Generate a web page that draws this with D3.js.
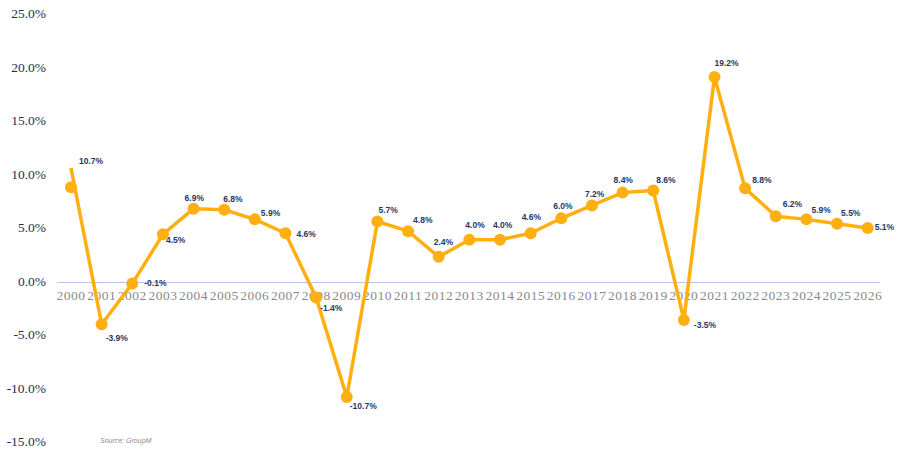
<!DOCTYPE html>
<html>
<head>
<meta charset="utf-8">
<script src="https://cdn.jsdelivr.net/npm/d3@7"></script>
<style>
  html, body { margin: 0; padding: 0; background: #ffffff; }
  svg { display: block; }
</style>
</head>
<body>
<svg id="chart" width="906" height="474"></svg>
<script>
// ---- data ----
const years = ["2000","2001","2002","2003","2004","2005","2006","2007","2008","2009","2010","2011","2012","2013",
               "2014","2015","2016","2017","2018","2019","2020","2021","2022","2023","2024","2025","2026"];
const growth = [10.7,-3.9,-0.1,4.5,6.9,6.8,5.9,4.6,-1.4,-10.7,5.7,4.8,2.4,4.0,4.0,4.6,6.0,7.2,8.4,8.6,-3.5,19.2,8.8,6.2,5.9,5.5,5.1];
// marker values as drawn in the source (first marker sits below the line start)
const markerValues = [8.9,-3.9,-0.1,4.5,6.9,6.8,5.9,4.6,-1.4,-10.7,5.7,4.8,2.4,4.0,4.0,4.6,6.0,7.2,8.4,8.6,-3.5,19.2,8.8,6.2,5.9,5.5,5.1];
const yTicks = [25,20,15,10,5,0,-5,-10,-15];
const sourceText = "Source: GroupM";

// ---- label layout (dx, dy from point) ----
const labelDx = [8,4,12,3,-9,-1,6,11,4,3,1,5,-5,-4,-7,-9,-8,-7,-9,3,10,0,7,7,5,4,7];
const labelDy = [-6,15,0,6,-10,-10,-6,1,11,10,-11,-10,-14,-14,-14,-16,-12,-11,-12,-10,6,-13,-8,-11,-9,-10,0];

const svg = d3.select("#chart");
const x = d3.scalePoint().domain(years).range([71, 867.7]);
const y = d3.scaleLinear().domain([-15, 25]).range([443, 15]);

// zero line
svg.append("line")
  .attr("x1", 57).attr("x2", 880)
  .attr("y1", y(0)).attr("y2", y(0))
  .attr("stroke", "#b4c7e7").attr("stroke-width", 1);

// y axis labels
svg.append("g").selectAll("text").data(yTicks).join("text")
  .attr("x", 46).attr("y", d => y(d))
  .attr("text-anchor", "end").attr("dominant-baseline", "middle")
  .attr("font-family", "Liberation Serif, serif").attr("font-size", 13.5)
  .attr("fill", "#1f2d5a")
  .text(d => d.toFixed(1) + "%");

// x axis labels
svg.append("g").selectAll("text").data(years).join("text")
  .attr("x", d => x(d)).attr("y", y(0) + 14)
  .attr("text-anchor", "middle").attr("dominant-baseline", "middle")
  .attr("font-family", "Liberation Serif, serif").attr("font-size", 13.5)
  .attr("letter-spacing", 0.5)
  .attr("fill", "#8a8a8a")
  .text(d => d);

// line
const line = d3.line().x((d, i) => x(years[i])).y(d => y(d));
svg.append("path").datum(growth)
  .attr("d", line)
  .attr("fill", "none").attr("stroke", "#ffaf0f")
  .attr("stroke-width", 3.5).attr("stroke-linejoin", "round");

// markers
svg.append("g").selectAll("circle").data(markerValues).join("circle")
  .attr("cx", (d, i) => x(years[i])).attr("cy", d => y(d))
  .attr("r", 6).attr("fill", "#ffaf0f");

// data labels
svg.append("g").selectAll("text").data(growth).join("text")
  .attr("x", (d, i) => x(years[i]) + labelDx[i])
  .attr("y", (d, i) => y(d) + labelDy[i])
  .attr("text-anchor", "start").attr("dominant-baseline", "middle")
  .attr("font-family", "Liberation Sans, Arial, sans-serif").attr("font-size", 8.5)
  .attr("font-weight", "bold").attr("fill", "#1f3864")
  .text(d => d.toFixed(1) + "%");

// source
svg.append("text")
  .attr("x", 100).attr("y", 443)
  .attr("font-family", "Liberation Sans, Arial, sans-serif").attr("font-size", 7)
  .attr("font-style", "italic").attr("fill", "#8c8c8c")
  .text(sourceText);
</script>
</body>
</html>
